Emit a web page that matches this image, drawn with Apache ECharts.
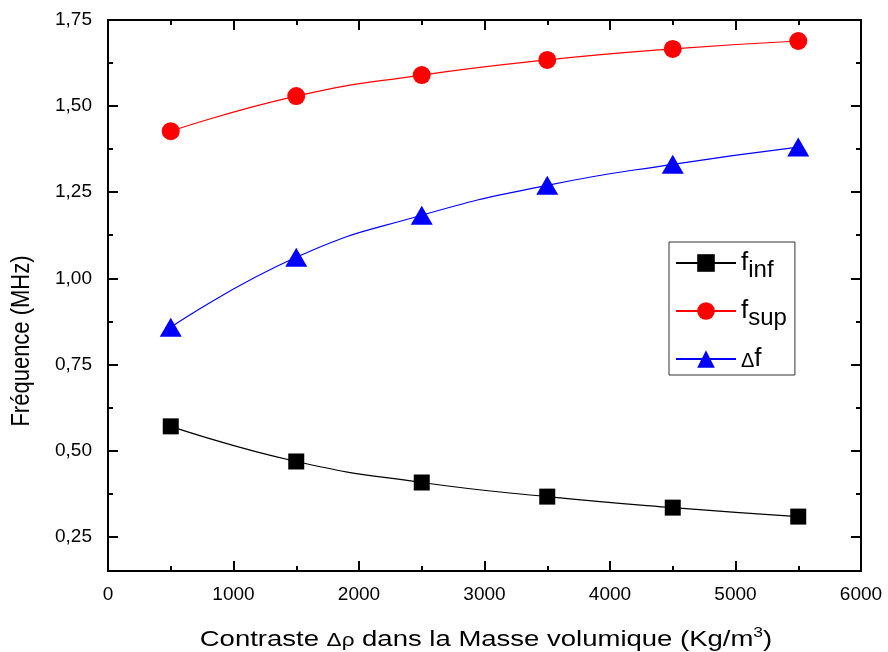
<!DOCTYPE html>
<html>
<head>
<meta charset="utf-8">
<script src="https://cdn.jsdelivr.net/npm/echarts@6/dist/echarts.min.js"></script>
<style>
html,body{margin:0;padding:0;background:#fff;}
#chart{width:888px;height:652px;}
</style>
</head>
<body>
<div id="chart"></div>
<script>
// Density contrast (kg/m3)
const contrast = [500, 1500, 2500, 3500, 4500, 5500];
// Frequencies (MHz)
const fInf = [0.570, 0.468, 0.407, 0.366, 0.334, 0.308];
const fSup = [1.427, 1.529, 1.590, 1.634, 1.666, 1.689];
const deltaF = [0.858, 1.061, 1.183, 1.270, 1.331, 1.381];
// Axis tick values
const yMajor = [0.25, 0.50, 0.75, 1.00, 1.25, 1.50, 1.75];
const yMinor = [0.375, 0.625, 0.875, 1.125, 1.375, 1.625];

const FONT = 'Liberation Sans, Arial, sans-serif';
const pair = (xs, ys) => xs.map((x, i) => [x, ys[i]]);
const fmt = v => Number(v).toFixed(2).replace('.', ',');

const chart = echarts.init(document.getElementById('chart'));

function yAxis(pos, values, len, labels) {
  return {
    type: 'value', min: 0.15, max: 1.75, position: pos,
    axisLine: { show: true, onZero: false, lineStyle: { color: '#000', width: 2 } },
    splitLine: { show: false },
    axisTick: { show: true, inside: true, length: len, customValues: values,
      lineStyle: { color: '#000', width: 2 } },
    axisLabel: labels ? { show: true, customValues: yMajor, formatter: fmt,
      color: '#000', fontSize: 19, fontFamily: FONT, margin: 16 } : { show: false }
  };
}

function xAxis(pos, labels) {
  return {
    type: 'value', min: 0, max: 6000, interval: 1000, position: pos,
    axisLine: { show: true, onZero: false, lineStyle: { color: '#000', width: 2 } },
    splitLine: { show: false },
    axisTick: { show: true, inside: true, length: 10, lineStyle: { color: '#000', width: 2 } },
    minorTick: { show: true, splitNumber: 2, length: 5, lineStyle: { color: '#000', width: 2 } },
    axisLabel: labels ? { show: true, color: '#000', fontSize: 19, fontFamily: FONT, margin: 14,
      formatter: v => String(v) } : { show: false }
  };
}

const legendRich = {
  f: { fontSize: 26, fontFamily: FONT, color: '#000' },
  sub: { fontSize: 24, fontFamily: FONT, color: '#000', padding: [14, 0, 0, 0] },
  d: { fontSize: 20, fontFamily: FONT, color: '#000', padding: [4, 0, 0, 0] }
};

chart.setOption({
  animation: false,
  backgroundColor: '#fff',
  grid: { left: 108, right: 27, top: 20, bottom: 81 },
  xAxis: [xAxis('bottom', true), xAxis('top', false)],
  yAxis: [
    yAxis('left', yMajor, 10, true),
    yAxis('left', yMinor, 5, false),
    yAxis('right', yMajor, 10, false),
    yAxis('right', yMinor, 5, false)
  ],
  graphic: [
    { type: 'text', x: 486, y: 640, scaleX: 1.25,
      style: {
        text: '{t|Contraste }{g|Δρ}{t| dans la Masse volumique (Kg/m}{s|3}{t|)}',
        align: 'center', verticalAlign: 'middle',
        rich: {
          t: { fontSize: 22, fontFamily: FONT, fill: '#000' },
          g: { fontSize: 18, fontFamily: FONT, fill: '#000', padding: [3, 0, 0, 0] },
          s: { fontSize: 14, fontFamily: FONT, fill: '#000', padding: [0, 0, 14, 0] }
        }
      } },
    { type: 'text', x: 22, y: 341, rotation: Math.PI / 2, scaleY: 1.2,
      style: { text: 'Fréquence (MHz)', align: 'center', verticalAlign: 'middle',
        fontSize: 22, fontFamily: FONT, fill: '#000' } }
  ],
  legend: {
    orient: 'vertical', left: 669, top: 242,
    itemWidth: 60, itemHeight: 22, itemGap: 16,
    padding: [8, 8, 3, 6],
    borderColor: '#333', borderWidth: 1,
    data: ['inf', 'sup', 'delta'],
    formatter: n => n === 'inf' ? '{f|f}{sub|inf}' : n === 'sup' ? '{f|f}{sub|sup}' : '{d|Δ}{f|f}',
    textStyle: { rich: legendRich }
  },
  series: [
    { name: 'inf', type: 'line', data: pair(contrast, fInf), smooth: true,
      symbol: 'rect', symbolSize: 16, lineStyle: { color: '#000', width: 1.2 },
      itemStyle: { color: '#000' } },
    { name: 'sup', type: 'line', data: pair(contrast, fSup), smooth: true,
      symbol: 'circle', symbolSize: 18, lineStyle: { color: '#ff0000', width: 1.2 },
      itemStyle: { color: '#ff0000' } },
    { name: 'delta', type: 'line', data: pair(contrast, deltaF), smooth: true,
      symbol: 'triangle', symbolSize: [22, 19], lineStyle: { color: '#0000ff', width: 1.2 },
      itemStyle: { color: '#0000ff' } }
  ]
});
</script>
</body>
</html>
